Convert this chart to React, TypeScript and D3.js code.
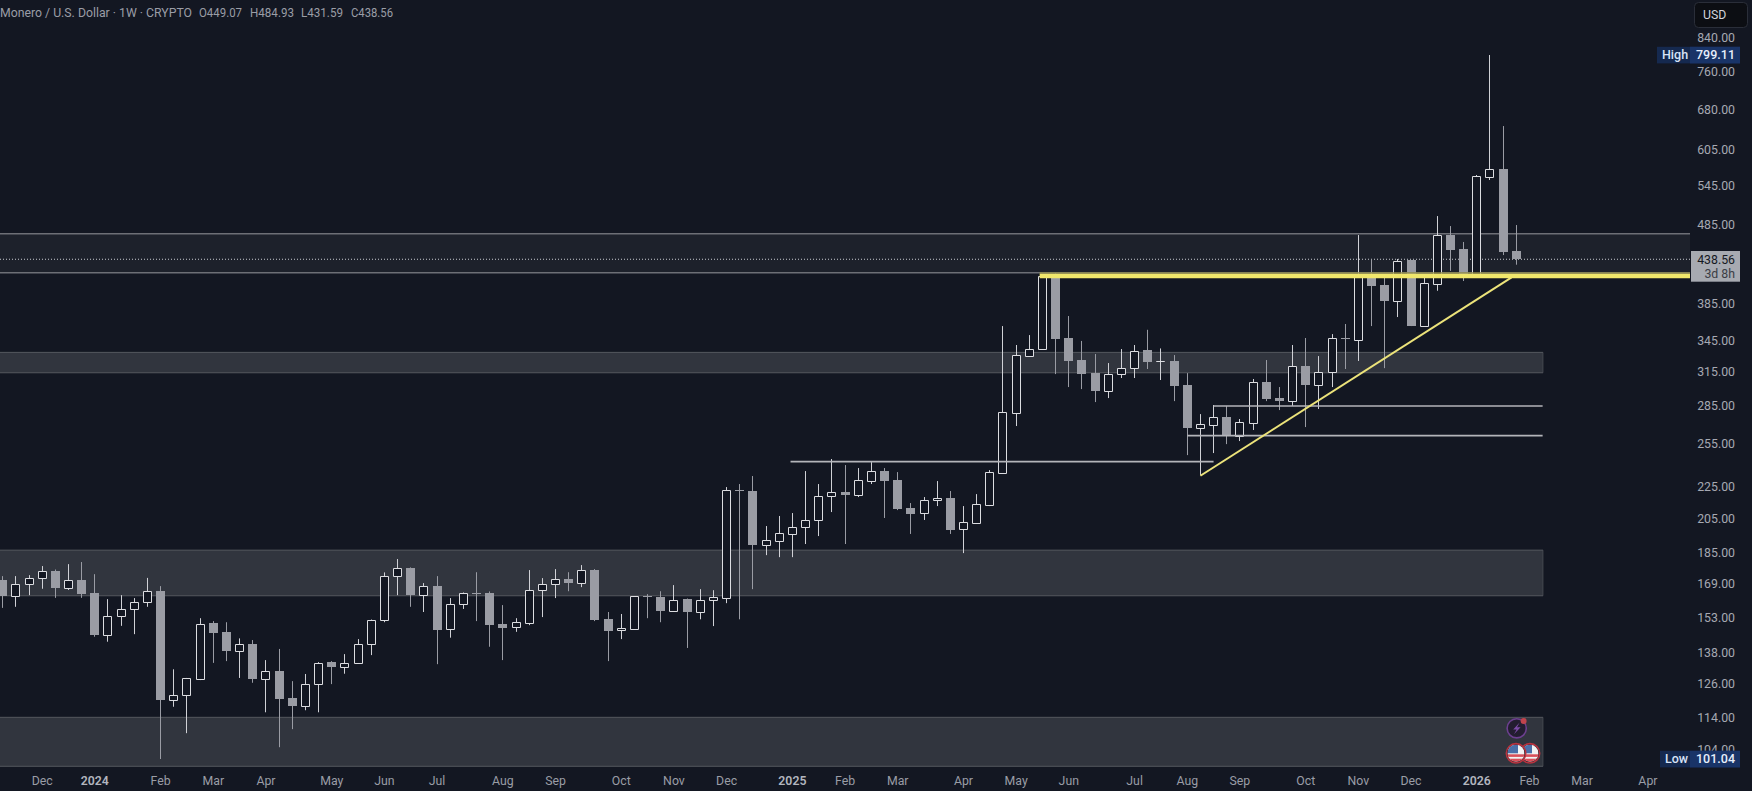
import React from "react";
import * as d3 from "d3";

const opens = [170.9,163.2,169.1,171.7,175.5,167.1,170.9,164.5,145.5,153.6,156.8,160.1,165.4,120.2,121.8,127.9,150.6,146.7,138.9,141.6,127.9,130.8,120.8,118.2,125.8,134.3,132.4,133.8,141.8,152.2,173.2,177.0,163.6,167.9,148.1,159.1,164.4,164.5,150.1,148.7,150.7,165.8,169.1,171.4,169.5,176.0,152.3,147.4,148.2,163.0,162.5,156.2,161.6,155.7,161.4,162.2,222.4,222.0,189.6,191.9,195.8,199.5,203.7,218.6,221.3,219.6,228.8,235.4,229.1,211.1,208.3,216.0,217.3,198.4,202.3,213.0,234.3,279.5,330.3,336.6,417.5,347.9,326.1,314.0,297.9,312.7,318.3,335.9,324.9,325.3,303.1,267.4,269.5,275.9,261.0,271.2,305.8,291.8,289.4,320.5,303.4,314.6,347.6,346.1,417.5,406.6,388.3,437.1,360.7,408.1,470.9,451.9,416.6,558.4,571.7,449.07];
const highs = [172.9,172.9,173.4,178.1,176.3,179.1,180.2,173.9,161.6,163.5,162.1,172.0,167.9,131.5,128.2,152.8,151.5,151.0,144.0,143.3,135.1,139.6,127.0,129.7,134.3,134.7,137.5,143.7,152.2,174.8,181.8,177.4,169.4,172.9,162.1,164.8,174.9,165.3,158.8,152.8,176.0,171.9,176.5,174.9,178.6,176.5,155.6,154.7,162.9,164.0,165.4,168.4,161.9,166.4,165.9,224.6,226.6,232.0,200.3,206.3,208.1,235.4,226.6,243.9,239.6,237.5,241.7,237.5,234.7,214.3,218.1,228.6,222.0,212.4,220.0,236.1,360.4,340.9,351.0,417.5,420.8,371.2,345.0,332.0,323.3,336.9,340.9,356.5,337.5,331.0,313.9,278.3,285.8,285.0,274.3,308.5,326.2,301.3,340.9,348.0,330.0,352.0,362.6,470.9,437.6,419.9,438.9,437.1,416.3,497.9,483.5,461.4,561.7,799.11,648.6,484.93];
const lows = [157.5,158.0,163.5,166.6,162.2,166.0,162.2,144.7,142.6,149.4,145.8,158.0,101.04,117.8,109.0,127.4,134.0,134.7,128.2,126.4,115.9,104.6,110.3,116.6,115.9,125.9,129.8,133.8,137.1,151.0,163.5,158.0,155.6,133.5,144.3,157.0,151.5,140.5,135.1,146.8,149.7,153.3,162.1,165.4,167.4,151.5,134.7,143.7,148.2,152.8,151.0,156.2,140.0,152.3,149.3,159.7,152.3,166.4,183.9,182.8,182.8,190.0,194.5,208.7,190.0,218.1,226.6,205.1,209.9,195.7,203.9,212.4,195.7,185.0,202.3,212.4,233.6,268.7,329.1,336.6,313.0,301.3,299.5,288.3,291.7,309.4,309.4,317.7,307.6,289.1,246.7,232.7,248.2,254.8,257.1,265.6,289.1,281.6,285.0,267.9,282.5,301.3,317.7,325.3,360.4,318.5,370.1,360.4,360.7,399.8,423.8,411.4,416.6,553.5,444.0,431.59];
const closes = [163.2,169.1,171.7,175.3,167.1,170.7,164.1,145.4,153.6,156.8,160.1,165.3,120.1,121.8,128.2,150.4,146.2,138.8,141.5,127.8,130.7,120.6,118.0,125.8,133.8,132.4,133.8,141.8,152.2,173.2,176.9,163.5,167.8,147.5,159.1,164.5,164.3,149.7,148.4,150.9,165.8,169.1,171.2,169.4,175.9,151.9,147.0,148.3,162.9,162.9,156.0,161.4,155.6,161.4,162.4,222.4,222.2,189.4,192.2,196.1,199.5,203.7,218.6,221.2,219.4,229.1,235.2,228.8,210.7,207.7,216.0,217.2,198.0,202.5,213.4,234.5,279.7,330.7,336.6,417.5,347.2,325.3,313.0,297.7,312.7,318.3,335.2,324.3,325.0,302.2,267.1,270.3,275.9,261.2,271.9,305.8,290.9,289.1,320.2,303.1,314.6,347.6,347.2,415.9,405.4,388.0,436.7,360.4,408.6,470.5,450.6,415.9,559.5,571.1,447.9,438.56];

const DAY = 24 * 3600 * 1000;
const WEEK = 7 * DAY;
const firstWeek = Date.UTC(2023, 10, 13);
const lastWeek = Date.UTC(2026, 0, 26);
const axisEnd = Date.UTC(2026, 3, 30);

const priceTicks = [840, 760, 680, 605, 545, 485, 385, 345, 315, 285, 255, 225, 205, 185, 169, 153, 138, 126, 114, 104];
const monthNames = ["Jan", "Feb", "Mar", "Apr", "May", "Jun", "Jul", "Aug", "Sep", "Oct", "Nov", "Dec"];

// supply / demand zones: [upper price, lower price, fill, edge]
const zones: [number, number, string, string][] = [
  [472.7, 421.5, "rgba(255,255,255,0.045)", "#6d6f76"],
  [333.6, 314.2, "rgba(255,255,255,0.13)", "#55585f"],
  [186.6, 163.2, "rgba(255,255,255,0.13)", "#55585f"],
  [114.2, 98.9, "rgba(255,255,255,0.13)", "#55585f"],
];
const levels: [number, number, number][] = [
  [242.0, Date.UTC(2025, 0, 5), Date.UTC(2025, 7, 18)],
  [285.0, Date.UTC(2025, 7, 18), Date.UTC(2026, 1, 9)],
  [261.2, Date.UTC(2025, 7, 4), Date.UTC(2026, 1, 9)],
];
const trendFrom: [number, number] = [Date.UTC(2025, 7, 11), 232.2];
const trendTo: [number, number] = [Date.UTC(2026, 0, 19) + 4.5 * DAY, 415.9];
const resistanceFrom = Date.UTC(2025, 4, 19) - 1.5 * DAY;
const resistance = 417.5;
const lastPrice = 438.56;
const highPrice = 799.11;
const lowPrice = 101.04;
const legendName = "Monero / U.S. Dollar · 1W · CRYPTO";
const legendOHLC = ["O449.07", "H484.93", "L431.59", "C438.56"];

const BG = "#131722";
const FONT = "Roboto, 'Open Sans', sans-serif";
const W = 1752, H = 791, PLOT_R = 1690, ZONE_R = 1543;

const x = d3.scaleUtc().domain([firstWeek, lastWeek]).range([2.7, 1516.3]);
const y = d3.scaleLog().domain([highPrice, lowPrice]).range([55, 759]);

const monthTicks: { t: number; label: string; bold: boolean }[] = [];
for (let m = d3.utcMonth.ceil(new Date(firstWeek)); +m <= axisEnd; m = d3.utcMonth.offset(m, 1)) {
  const monday = d3.utcMonday.ceil(m);
  const bold = m.getUTCMonth() === 0;
  monthTicks.push({ t: +monday, label: bold ? String(m.getUTCFullYear()) : monthNames[m.getUTCMonth()], bold });
}

const crisp = (v: number) => Math.round(v) + 0.5;

function Candle({ i }: { i: number }) {
  const t = firstWeek + i * WEEK;
  const cx = Math.floor(x(t)) + 0.5;
  const up = closes[i] >= opens[i];
  const top = Math.max(opens[i], closes[i]);
  const bot = Math.min(opens[i], closes[i]);
  const color = up ? "#dcdde1" : "#9a9ca4";
  const wick = up ? "#d0d1d6" : "#9a9ca4";
  const yT = y(top), yB = y(bot);
  return (
    <g>
      <line x1={cx} x2={cx} y1={y(highs[i])} y2={y(lows[i])} stroke={wick} strokeWidth={1} />
      {up ? (
        <path
          d={`M${cx - 4} ${crisp(yT)}H${cx + 4}V${crisp(yB)}H${cx - 4}Z`}
          fill={BG}
          stroke={color}
          strokeWidth={1}
        />
      ) : (
        <rect x={cx - 4.5} y={Math.round(yT)} width={9} height={Math.max(Math.round(yB - yT), 1)} fill={color} />
      )}
    </g>
  );
}

function Flag({ cx, cy, id }: { cx: number; cy: number; id: string }) {
  const r = 8.5;
  return (
    <g>
      <clipPath id={id}><circle cx={cx} cy={cy} r={r} /></clipPath>
      <circle cx={cx} cy={cy} r={r + 1.2} fill="#1a1c25" stroke="#b8333f" strokeWidth={1.6} />
      <g clipPath={`url(#${id})`}>
        <rect x={cx - r} y={cy - r} width={2 * r} height={2 * r} fill="#f2f2f2" />
        <rect x={cx - r} y={cy + 1} width={2 * r} height={2.6} fill="#d9505a" />
        <rect x={cx - r} y={cy + 5.4} width={2 * r} height={3.2} fill="#d9505a" />
        <rect x={cx - r} y={cy - r} width={r + 2} height={r} fill="#4a6fa8" />
      </g>
    </g>
  );
}

function Badge({ py, label, value }: { py: number; label: string; value: string }) {
  const cy = y(py);
  const left = label === "High" ? 1657 : 1660;
  return (
    <g>
      <rect x={left} y={cy - 8.2} width={1740 - left} height={16.6} fill="#15294f" />
      <rect x={1690} y={cy - 8.2} width={50} height={16.6} fill="#193468" />
      <text x={left + 5} y={cy + 4.4} fontSize={12.5} fill="#d7e3f7" fontWeight={500}>{label}</text>
      <text x={1735} y={cy + 4.4} fontSize={12.5} fill="#e6eefb" textAnchor="end" fontWeight={500}>{value}</text>
    </g>
  );
}

export default function App() {
  return (
    <svg
      width={W}
      height={H}
      viewBox={`0 0 ${W} ${H}`}
      style={{ position: "fixed", left: 0, top: 0, display: "block", background: BG }}
      fontFamily={FONT}
    >
      <rect width={W} height={H} fill={BG} />

      {zones.map(([hi, lo, fill, edge], k) => {
        const right = k === 0 ? PLOT_R : ZONE_R;
        const y1 = y(hi), y2 = y(lo);
        return (
          <g key={k}>
            <rect x={0} y={y1} width={right} height={y2 - y1} fill={fill} />
            <line x1={0} x2={right} y1={y1} y2={y1} stroke={edge} strokeWidth={k === 0 ? 1.4 : 1} />
            <line x1={0} x2={right} y1={y2} y2={y2} stroke={edge} strokeWidth={k === 0 ? 1.4 : 1} />
            {k > 0 && <line x1={right} x2={right} y1={y1} y2={y2} stroke={edge} strokeWidth={0.6} />}
          </g>
        );
      })}

      <line x1={0} x2={PLOT_R} y1={y(lastPrice)} y2={y(lastPrice)} stroke="#c9cbd1" strokeWidth={1} strokeDasharray="1 2" />

      {opens.map((_, i) => <Candle key={i} i={i} />)}

      {levels.map(([p, a, b], k) => (
        <line key={k} x1={x(a)} x2={Math.min(x(b), ZONE_R)} y1={y(p)} y2={y(p)} stroke="#b4b5ba" strokeWidth={1.6} />
      ))}

      <line x1={x(trendFrom[0])} y1={y(trendFrom[1])} x2={x(trendTo[0])} y2={y(trendTo[1])} stroke="#ece37a" strokeWidth={2} />
      <line x1={x(resistanceFrom)} x2={PLOT_R} y1={y(resistance) - 3} y2={y(resistance) - 3} stroke="#8f8a4c" strokeWidth={1.6} />
      <line x1={x(resistanceFrom)} x2={PLOT_R} y1={y(resistance)} y2={y(resistance)} stroke="#f1e76c" strokeWidth={4.4} />

      {/* event markers */}
      <g>
        <circle cx={1516.7} cy={728.3} r={9.6} fill="#231d30" stroke="#6c3f8f" strokeWidth={1.6} />
        <path d="M1519.6 722.6 L1513.2 729.4 L1516.6 729.4 L1514 734.2 L1520.6 727.2 L1517 727.2 Z" fill="#7c4aa6" />
        <circle cx={1523.6} cy={721} r={3} fill="#c0444c" />
        <Flag cx={1530} cy={753.3} id="flagB" />
        <Flag cx={1516} cy={753.3} id="flagA" />
      </g>

      {/* legend */}
      <text x={0} y={17} fontSize={13} fill="#9a9da6" textLength={192} lengthAdjust="spacingAndGlyphs">{legendName}</text>
      {legendOHLC.map((s, k) => (
        <text key={s} x={[199, 250, 301, 351][k]} y={17} fontSize={13} fill="#9a9da6" textLength={[43, 44, 42, 42][k]} lengthAdjust="spacingAndGlyphs">{s}</text>
      ))}

      {/* price axis */}
      {priceTicks.map((p) => (
        <text key={p} x={1735} y={y(p) + 4.4} fontSize={12.3} fill="#a6a9b2" textAnchor="end">{p.toFixed(2)}</text>
      ))}
      <Badge py={highPrice} label="High" value={highPrice.toFixed(2)} />
      <Badge py={lowPrice} label="Low" value={lowPrice.toFixed(2)} />

      <rect x={1691} y={251} width={49} height={30.7} fill="#a7aab1" />
      <text x={1735} y={y(lastPrice) + 4.4} fontSize={12.3} fill="#15181f" textAnchor="end">{lastPrice.toFixed(2)}</text>
      <text x={1735} y={y(lastPrice) + 18.4} fontSize={12.3} fill="#3a3d45" textAnchor="end">3d 8h</text>

      <rect x={1694.5} y={2.5} width={53} height={25} rx={4} fill="#0c0e13" stroke="#2a2e39" />
      <text x={1703} y={19} fontSize={12.3} fill="#d1d4dc">USD</text>

      {/* time axis */}
      {monthTicks.map(({ t, label, bold }) => (
        <text key={t} x={x(t)} y={784.5} fontSize={12.3} fill={bold ? "#b2b5be" : "#9a9da6"} fontWeight={bold ? 600 : 400} textAnchor="middle">{label}</text>
      ))}
    </svg>
  );
}
